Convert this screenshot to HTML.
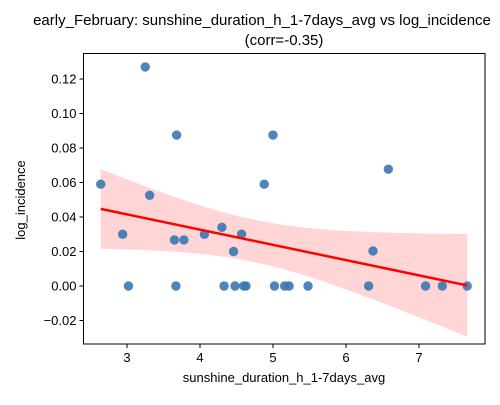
<!DOCTYPE html>
<html><head><meta charset="utf-8"><style>
body{margin:0;background:#fff;font-family:"Liberation Sans","DejaVu Sans",sans-serif;}
</style></head><body>
<svg id="chart" width="500" height="400" xmlns="http://www.w3.org/2000/svg" font-family="Liberation Sans, DejaVu Sans, sans-serif">
<rect width="500" height="400" fill="#fff"/>
<text x="262" y="25" text-anchor="middle" font-size="15">early_February: sunshine_duration_h_1-7days_avg vs log_incidence</text>
<text x="284" y="45" text-anchor="middle" font-size="15">(corr=-0.35)</text>
<g id="plot"></g>
<text x="284" y="382" text-anchor="middle" font-size="13">sunshine_duration_h_1-7days_avg</text>
<text x="25" y="200" text-anchor="middle" font-size="13" transform="rotate(-90 25 200)">log_incidence</text>
</svg>
<script>
const xs=[2.64,3.25,3.68,5.00,4.88,3.31,2.94,3.65,3.78,4.06,4.30,4.46,4.57,3.02,3.67,4.33,4.48,4.60,4.63,5.02,5.16,5.22,5.48,6.31,7.09,7.32,7.66,6.58,6.37];
const ys=[0.059,0.127,0.0875,0.0875,0.059,0.0526,0.030,0.0267,0.0267,0.030,0.034,0.020,0.030,0,0,0,0,0,0,0,0,0,0,0,0,0,0,0.0677,0.0203];
const xTicks=[3,4,5,6,7];
const yTicks=[-0.02,0,0.02,0.04,0.06,0.08,0.10,0.12];
const yLabels=["−0.02","0.00","0.02","0.04","0.06","0.08","0.10","0.12"];
const L=83.5,R=485,T=53.5,B=344;
const X=v=>127+(v-3)*73;
const Y=v=>286-v*1725;
const g=document.getElementById('plot');
const NS='http://www.w3.org/2000/svg';
function mk(t,a){const e=document.createElementNS(NS,t);for(const k in a)e.setAttribute(k,a[k]);g.appendChild(e);return e;}
const n=xs.length,mx=xs.reduce((a,b)=>a+b)/n,my=ys.reduce((a,b)=>a+b)/n;
let sxx=0,sxy=0;for(let i=0;i<n;i++){sxx+=(xs[i]-mx)**2;sxy+=(xs[i]-mx)*(ys[i]-my);}
const b1=sxy/sxx,b0=my-b1*mx;
let sse=0;for(let i=0;i<n;i++)sse+=(ys[i]-b0-b1*xs[i])**2;
const s=Math.sqrt(sse/(n-2)),t=2.05;
const x0=Math.min(...xs),x1=Math.max(...xs);
let up=[],lo=[];
for(let k=0;k<=50;k++){const x=x0+(x1-x0)*k/50;const yh=b0+b1*x;const se=s*Math.sqrt(1/n+(x-mx)**2/sxx)*t;
up.push(X(x).toFixed(1)+','+Y(yh+se).toFixed(1));lo.unshift(X(x).toFixed(1)+','+Y(yh-se).toFixed(1));}
let band=mk('polygon',{points:up.concat(lo).join(' '),fill:'#ffb3b3','fill-opacity':0.55});


xs.forEach((x,i)=>{const c=mk('circle',{cx:X(x),cy:Y(ys[i]),r:4.7,fill:'#3a78b2','fill-opacity':0.9});

});
let ln=mk('line',{x1:X(x0),y1:Y(b0+b1*x0),x2:X(x1),y2:Y(b0+b1*x1),stroke:'#ff0000','stroke-width':2.5});


let fr=mk('rect',{x:L,y:T,width:R-L,height:B-T,fill:'none',stroke:'#000','stroke-width':1});


xTicks.forEach(v=>{mk('line',{x1:X(v),x2:X(v),y1:B,y2:B+4,stroke:'#000'});
const tx=mk('text',{x:X(v),y:B+18,'text-anchor':'middle','font-size':13});tx.textContent=v;

});
yTicks.forEach((v,i)=>{mk('line',{x1:L-4,x2:L,y1:Y(v),y2:Y(v),stroke:'#000'});
const tx=mk('text',{x:L-7,y:Y(v)+4.5,'text-anchor':'end','font-size':13});tx.textContent=yLabels[i];

});
</script>
</body></html>
